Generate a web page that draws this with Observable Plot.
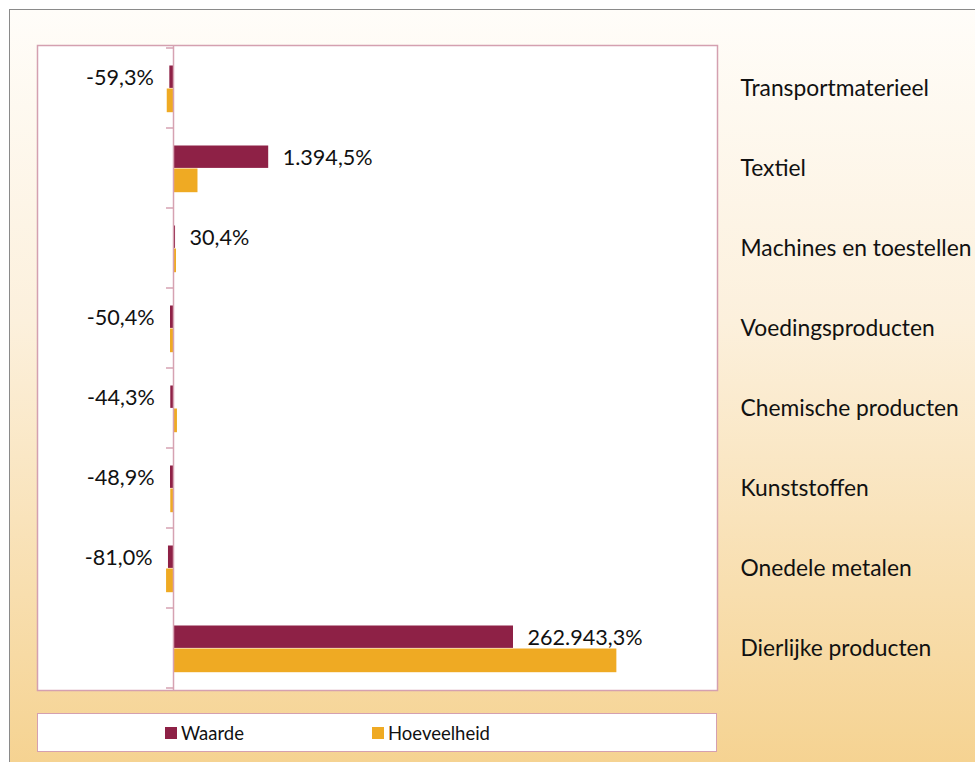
<!DOCTYPE html>
<html>
<head>
<meta charset="utf-8">
<script src="https://cdn.jsdelivr.net/npm/d3@7"></script>
<script src="https://cdn.jsdelivr.net/npm/@observablehq/plot@0.6"></script>
<style>
  html, body { margin: 0; padding: 0; background: #fff; }
  body { width: 975px; height: 762px; position: relative; overflow: hidden; font-family: Lato, "Open Sans", sans-serif; }
  #bg { position: absolute; left: 9px; top: 9px; width: 990px; height: 780px; border: 1px solid #8a8a8a;
        background: linear-gradient(to bottom, #fffdf9 0%, #fcf0dc 40%, #f5d18d 100%); }
  #chart { position: absolute; left: 0; top: 0; }
  #legend { position: absolute; left: 37px; top: 713px; width: 678px; height: 37px; background: #fff;
            border: 1.5px solid #d4a0b0; }
  .item { position: absolute; top: 0; height: 37px; display: flex; align-items: center; font-size: 18.5px; color: #111; }
  .sw { width: 12px; height: 12px; margin-right: 4px; }
</style>
</head>
<body>
<div id="bg"></div>
<div id="chart"></div>
<div id="legend"></div>
<script>
const categories = ["Transportmaterieel", "Textiel", "Machines en toestellen", "Voedingsproducten",
  "Chemische producten", "Kunststoffen", "Onedele metalen", "Dierlijke producten"];
const seriesNames = ["Waarde", "Hoeveelheid"];
const waarde = [-2.7, 70, 1.5, -2.2, -2.0, -2.2, -3.7, 250];
const hoeveelheid = [-4.6, 18, 2.2, -2.2, 2.9, -2.0, -5.1, 326];
const waardeLabels = ["-59,3%", "1.394,5%", "30,4%", "-50,4%", "-44,3%", "-48,9%", "-81,0%", "262.943,3%"];

const colors = {Waarde: "#8e2146", Hoeveelheid: "#efaa23"};
const axisColor = "#d6a2b2";

const rows = categories.map((c, i) => ({cat: c, w: waarde[i], h: hoeveelheid[i], label: waardeLabels[i]}));

function boundaryTicks(index, scales, values, dimensions) {
  const x0 = scales.x(0);
  const tops = categories.map(c => scales.y(c));
  const step = tops[1] - tops[0];
  const edges = tops.concat([tops[tops.length - 1] + step]);
  const g = d3.create("svg:g").attr("stroke", axisColor).attr("stroke-width", 1.5);
  for (const y of edges) {
    g.append("line").attr("x1", x0 - 7).attr("x2", x0).attr("y1", y).attr("y2", y);
  }
  return g.node();
}

const chart = Plot.plot({
  width: 975,
  height: 700,
  marginLeft: 37,
  marginRight: 258,
  marginTop: 45,
  marginBottom: 10,
  style: {background: "transparent", fontFamily: "Lato, 'Open Sans', sans-serif", fontSize: "22.8px", color: "#111", overflow: "visible"},
  x: {domain: [-100, 400], axis: null},
  y: {domain: categories, padding: 0, axis: "right", tickSize: 0, tickPadding: 23, label: null},
  marks: [
    Plot.frame({fill: "white", stroke: "#d4a0b0", strokeWidth: 1.5}),
    Plot.barX(rows, {x: "w", y: "cat", fill: colors.Waarde, insetTop: 17.5, insetBottom: 40.1}),
    Plot.barX(rows, {x: "h", y: "cat", fill: colors.Hoeveelheid, insetTop: 40.5, insetBottom: 15.8}),
    Plot.ruleX([0], {stroke: axisColor, strokeWidth: 1.5}),
    boundaryTicks,
    Plot.text(rows.filter(d => d.w < 0), {x: "w", y: "cat", text: "label", textAnchor: "end", dx: -16, dy: -10, fill: "#111", fontSize: 21.6}),
    Plot.text(rows.filter(d => d.w >= 0), {x: "w", y: "cat", text: "label", textAnchor: "start", dx: 14, dy: -10, fill: "#111", fontSize: 21.6})
  ]
});
document.getElementById("chart").appendChild(chart);

const legend = document.getElementById("legend");
const legendLeft = [127, 334];
seriesNames.forEach((s, i) => {
  const it = document.createElement("div");
  it.className = "item";
  it.style.left = legendLeft[i] + "px";
  it.innerHTML = `<span class="sw" style="background:${colors[s]}"></span><span>${s}</span>`;
  legend.appendChild(it);
});
</script>
</body>
</html>
